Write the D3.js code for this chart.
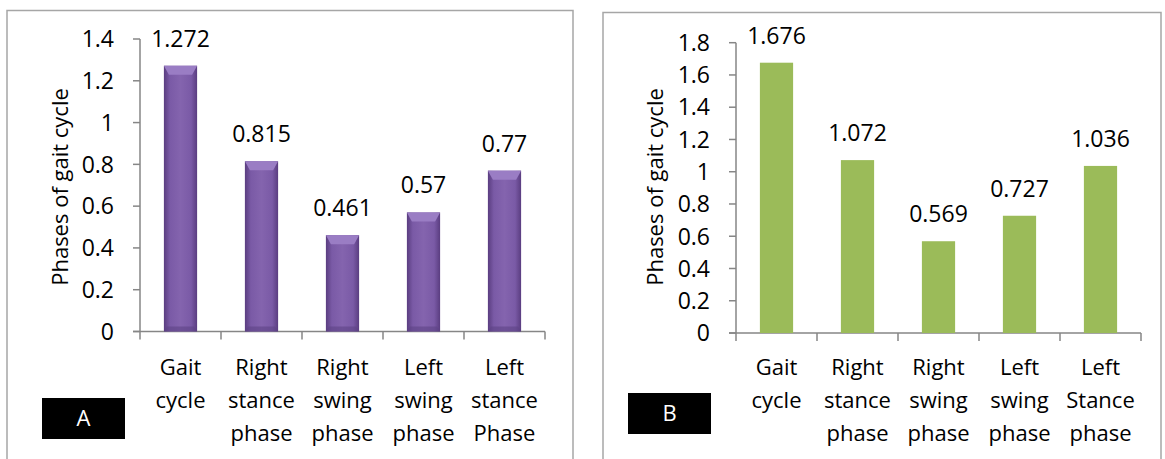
<!DOCTYPE html>
<html>
<head>
<meta charset="utf-8">
<script src="https://cdn.jsdelivr.net/npm/d3@7"></script>
<style>
  body { margin: 0; background: #fff; }
  svg text { font-family: "Open Sans", sans-serif; fill: #000; }
</style>
</head>
<body>
<div id="chart"></div>
<script>
const width = 1165;
const height = 459;

// data
const categoriesA = [["Gait", "cycle"], ["Right", "stance", "phase"], ["Right", "swing", "phase"], ["Left", "swing", "phase"], ["Left", "stance", "Phase"]];
const categoriesB = [["Gait", "cycle"], ["Right", "stance", "phase"], ["Right", "swing", "phase"], ["Left", "swing", "phase"], ["Left", "Stance", "phase"]];
const valuesA = [1.272, 0.815, 0.461, 0.57, 0.77];
const valuesB = [1.676, 1.072, 0.569, 0.727, 1.036];
const ticksA = [0, 0.2, 0.4, 0.6, 0.8, 1, 1.2, 1.4];
const ticksB = [0, 0.2, 0.4, 0.6, 0.8, 1, 1.2, 1.4, 1.6, 1.8];
const yTitle = "Phases of gait cycle";

const svg = d3.select("#chart").append("svg")
    .attr("width", width)
    .attr("height", height);

const defs = svg.append("defs");
const grad = defs.append("linearGradient")
    .attr("id", "purpleGrad")
    .attr("x1", "0").attr("x2", "1").attr("y1", "0").attr("y2", "0");
grad.append("stop").attr("offset", "0%").attr("stop-color", "#5a3d80");
grad.append("stop").attr("offset", "18%").attr("stop-color", "#7a5aa6");
grad.append("stop").attr("offset", "50%").attr("stop-color", "#8464ae");
grad.append("stop").attr("offset", "82%").attr("stop-color", "#7a5aa6");
grad.append("stop").attr("offset", "100%").attr("stop-color", "#5a3d80");

const panels = [
    { box: [7, 10.5, 573, 470], axisX: [140, 545], axisY: [331.5, 39], max: 1.4,
      cats: categoriesA, vals: valuesA, ticks: ticksA, titleX: 60, tag: "A",
      tagBox: [42, 398, 83, 41], purple: true },
    { box: [603, 12.5, 1161, 470], axisX: [736, 1141], axisY: [333, 42.7], max: 1.8,
      cats: categoriesB, vals: valuesB, ticks: ticksB, titleX: 655, tag: "B",
      tagBox: [628, 393, 83, 41], purple: false }
];

panels.forEach(p => {
    const g = svg.append("g");

    // panel border
    g.append("path")
        .attr("d", `M${p.box[0]},${p.box[3]} V${p.box[1]} H${p.box[2]} V${p.box[3]}`)
        .attr("fill", "none")
        .attr("stroke", "#a6a6a6")
        .attr("stroke-width", 1.5);

    const x = d3.scaleBand()
        .domain(d3.range(p.vals.length))
        .range(p.axisX)
        .paddingInner(0.59)
        .paddingOuter(0.295);

    const y = d3.scaleLinear()
        .domain([0, p.max])
        .range(p.axisY);

    const step = x.step();

    // y axis
    g.append("line")
        .attr("x1", p.axisX[0]).attr("x2", p.axisX[0])
        .attr("y1", y(0)).attr("y2", y(p.max))
        .attr("stroke", "#868686").attr("stroke-width", 1.5);
    g.selectAll(".ytick")
        .data(p.ticks)
        .join("line")
        .attr("x1", p.axisX[0] - 7).attr("x2", p.axisX[0])
        .attr("y1", d => y(d)).attr("y2", d => y(d))
        .attr("stroke", "#868686").attr("stroke-width", 1.5);
    g.selectAll(".ylab")
        .data(p.ticks)
        .join("text")
        .attr("x", p.axisX[0] - 26)
        .attr("y", d => y(d))
        .attr("dy", "0.36em")
        .attr("text-anchor", "end")
        .attr("font-size", "23px")
        .text(d => d3.format("~g")(d));

    // x axis
    g.append("line")
        .attr("x1", p.axisX[0] - 7).attr("x2", p.axisX[1])
        .attr("y1", y(0)).attr("y2", y(0))
        .attr("stroke", "#868686").attr("stroke-width", 1.5);
    g.selectAll(".xtick")
        .data(d3.range(p.vals.length + 1))
        .join("line")
        .attr("x1", d => p.axisX[0] + d * step).attr("x2", d => p.axisX[0] + d * step)
        .attr("y1", y(0)).attr("y2", y(0) + 8)
        .attr("stroke", "#868686").attr("stroke-width", 1.5);

    // bars
    const bars = g.selectAll(".bar")
        .data(p.vals)
        .join("g");
    bars.append("rect")
        .attr("x", (d, i) => x(i))
        .attr("y", d => y(d))
        .attr("width", x.bandwidth())
        .attr("height", d => y(0) - y(d))
        .attr("fill", p.purple ? "url(#purpleGrad)" : "#9bbb59");
    if (p.purple) {
        // bevelled top
        bars.append("path")
            .attr("d", (d, i) => {
                const x0 = x(i), x1 = x(i) + x.bandwidth(), t = y(d), h = 9;
                return `M${x0},${t} H${x1} L${x1 - 5},${t + h} H${x0 + 5} Z`;
            })
            .attr("fill", "#9a7dc4");
        bars.append("path")
            .attr("d", (d, i) => {
                const x0 = x(i), x1 = x(i) + x.bandwidth(), b = y(0), h = 5;
                return `M${x0},${b} H${x1} L${x1 - 3},${b - h} H${x0 + 3} Z`;
            })
            .attr("fill", "#5e4286")
            .attr("opacity", 0.6);
    }

    // value labels
    g.selectAll(".val")
        .data(p.vals)
        .join("text")
        .attr("x", (d, i) => x(i) + x.bandwidth() / 2)
        .attr("y", d => y(d) - 19)
        .attr("text-anchor", "middle")
        .attr("font-size", "23px")
        .text(d => d);

    // category labels
    const cats = g.selectAll(".cat")
        .data(p.cats)
        .join("text")
        .attr("text-anchor", "middle")
        .attr("font-size", "22px");
    cats.selectAll("tspan")
        .data((d, i) => d.map(s => ({ s, i })))
        .join("tspan")
        .attr("x", d => x(d.i) + x.bandwidth() / 2)
        .attr("y", (d, j) => 375 + j * 33)
        .text(d => d.s);

    // y title
    g.append("text")
        .attr("transform", `translate(${p.titleX},187) rotate(-90)`)
        .attr("dy", "0.36em")
        .attr("text-anchor", "middle")
        .attr("font-size", "22px")
        .text(yTitle);

    // panel tag
    g.append("rect")
        .attr("x", p.tagBox[0]).attr("y", p.tagBox[1])
        .attr("width", p.tagBox[2]).attr("height", p.tagBox[3])
        .attr("fill", "#000");
    g.append("text")
        .attr("x", p.tagBox[0] + p.tagBox[2] / 2)
        .attr("y", p.tagBox[1] + p.tagBox[3] / 2)
        .attr("dy", "0.36em")
        .attr("text-anchor", "middle")
        .attr("font-size", "22px")
        .style("fill", "#fff")
        .text(p.tag);
});
</script>
</body>
</html>
